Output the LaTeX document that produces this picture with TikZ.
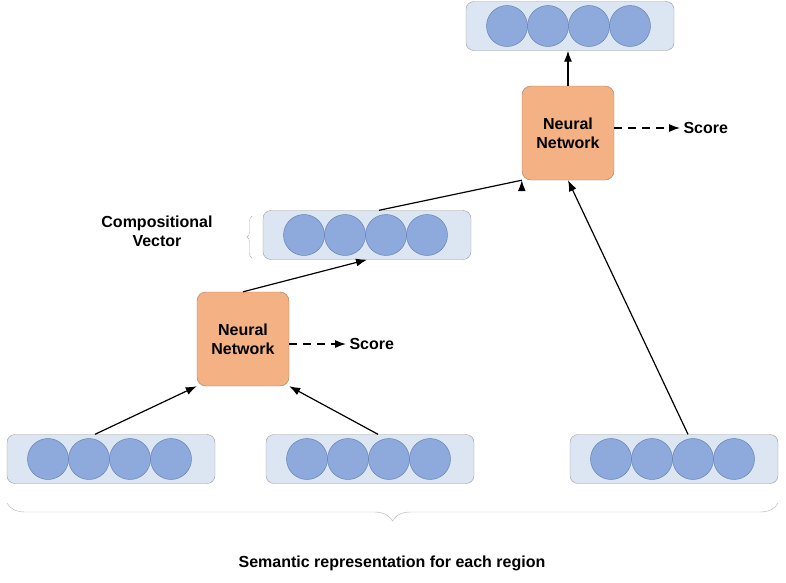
\documentclass[tikz,border=0pt]{standalone}
\usepackage{fontspec}
\setmainfont{Liberation Sans}
\usetikzlibrary{arrows.meta,decorations.pathreplacing}
\definecolor{vecfill}{HTML}{DCE6F2}
\definecolor{cellfill}{HTML}{8EA9DB}
\definecolor{cellline}{HTML}{5A78AE}
\definecolor{nnfill}{HTML}{F4B183}
\definecolor{nnline}{HTML}{9C7A62}
\begin{document}
\begin{tikzpicture}[x=1pt,y=-1pt,
      vec/.style={draw=gray!80, fill=vecfill, rounded corners=8pt, minimum width=208pt, minimum height=49pt},
      cell/.style={circle, draw=cellline, fill=cellfill, minimum size=41pt, inner sep=0pt},
      nn/.style={draw=nnline, fill=nnfill, rounded corners=9pt, minimum width=92pt, minimum height=94pt, align=center, font=\fontsize{16}{19}\selectfont\bfseries},
      lbl/.style={font=\fontsize{16}{19}\selectfont\bfseries, align=center},
      arr/.style={-{Latex[length=11pt,width=8pt]}, line width=1.2pt},
      darr/.style={arr, dashed, dash pattern=on 8pt off 6pt}]
    \useasboundingbox (0,0) rectangle (786,582);
    % vectors
    \foreach \name/\x/\y in {top/570/26, comp/367/235, bl/111/459, bm/370/459, br/674/459} {
      \node[vec] (\name) at (\x,\y) {};
      \foreach \i in {0,...,3}
        \node[cell] (\name\i) at (\x-63+41*\i,\y) {};
    }
    % networks
    \node[nn] (nnup) at (568,133) {Neural\\Network};
    \node[nn] (nnlow) at (243,339) {Neural\\Network};
    \node[lbl, anchor=west] (scoreup) at (680,128) {Score};
    \node[lbl, anchor=west] (scorelow) at (346,344) {Score};
    \draw[darr] (nnup.east |- scoreup) -- (scoreup.west);
    \draw[darr] (nnlow.east |- scorelow) -- (scorelow.west);
    % connectors
    \draw[arr] (nnup.north) -- (top.south -| nnup.north);
    \draw[arr] (comp.north) ++(12,0) coordinate (c1) (c1) -- (nnup.south west) ++(0,0);
    \draw[arr] (nnlow.north) -- (comp.south) ;
    \draw[arr] (bl.north) ++(-16,0) coordinate (b1) (b1) -- (nnlow.south west);
    \draw[arr] (bm.north) ++(8,0) coordinate (b2) (b2) -- (nnlow.south east);
    \draw[arr] (br.north) ++(14,0) coordinate (b3) (b3) -- (nnup.south);
    % braces
    \node[lbl] (complbl) at (157,231) {Compositional\\Vector};
    \draw[gray!60, decorate, decoration={brace, amplitude=5pt}] (252,258) -- (252,216);
    \draw[gray!60, decorate, decoration={brace, amplitude=18pt, mirror}] (7,503) -- (778,503);
    \node[lbl] (semlbl) at (392,563) {Semantic representation for each region};
\end{tikzpicture}
\end{document}
